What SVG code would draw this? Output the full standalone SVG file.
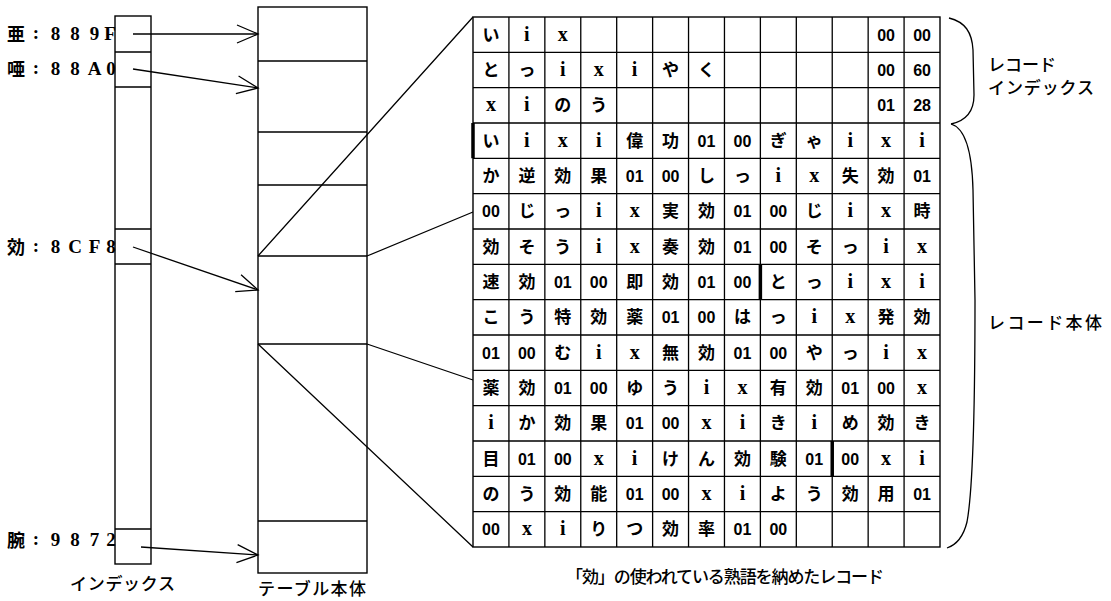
<svg xmlns="http://www.w3.org/2000/svg" width="1111" height="601" viewBox="0 0 1111 601">
<style>
.ln{fill:none;stroke:#000;stroke-width:1.3}
.box{fill:#fff;stroke:#000;stroke-width:1.4}
.thk{stroke:#000;stroke-width:3.5}
.k{font-family:"Noto Sans CJK JP",sans-serif;font-size:17px;font-weight:700;text-anchor:middle;fill:#000}
.n{font-family:"Liberation Sans","Noto Sans CJK JP",sans-serif;font-size:16px;font-weight:700;text-anchor:middle;fill:#000}
.r{font-family:"Liberation Serif","Noto Sans CJK JP",serif;font-size:20px;font-weight:700;text-anchor:middle;fill:#000}
.lbl{font-family:"Noto Sans CJK JP",sans-serif;font-size:18px;font-weight:700;fill:#000}
.hex{font-family:"Liberation Serif","Noto Sans CJK JP",serif;font-size:19px;font-weight:700;fill:#000;text-anchor:middle}
.cap{font-family:"Noto Sans CJK JP",sans-serif;font-size:17px;font-weight:500;fill:#000}
</style>
<defs>
<marker id="ah" viewBox="-23 -11 25 22" markerWidth="25" markerHeight="22" refX="0" refY="0" orient="auto" markerUnits="userSpaceOnUse">
<path d="M-21,-9 L0,0 L-21,9" fill="none" stroke="#000" stroke-width="1.3"/>
</marker>
</defs>
<rect width="1111" height="601" fill="#fff"/>

<g id="index">
<rect class="box" x="115" y="16" width="36" height="548"/>
<path class="ln" d="M115,52H151M115,87H151M115,229H151M115,264H151M115,529H151"/>
<text class="lbl" x="7" y="41">亜</text><text class="hex" x="36" y="39">:</text>
<text class="hex"><tspan x="55.5" y="40">8</tspan><tspan x="75" y="40">8</tspan><tspan x="94.5" y="40">9</tspan><tspan x="110" y="40">F</tspan></text>
<text class="lbl" x="7" y="76">唖</text><text class="hex" x="36" y="74">:</text>
<text class="hex"><tspan x="55.5" y="75">8</tspan><tspan x="75" y="75">8</tspan><tspan x="94.5" y="75">A</tspan><tspan x="111" y="75">0</tspan></text>
<text class="lbl" x="7" y="254">効</text><text class="hex" x="36" y="252">:</text>
<text class="hex"><tspan x="55.5" y="253">8</tspan><tspan x="75" y="253">C</tspan><tspan x="94.5" y="253">F</tspan><tspan x="111" y="253">8</tspan></text>
<text class="lbl" x="7" y="547">腕</text><text class="hex" x="36" y="545">:</text>
<text class="hex"><tspan x="55.5" y="546">9</tspan><tspan x="75" y="546">8</tspan><tspan x="94.5" y="546">7</tspan><tspan x="111" y="546">2</tspan></text>
<text class="cap" x="70" y="590" textLength="105">インデックス</text>
</g>

<g id="table">
<rect class="box" x="258" y="7" width="109" height="566"/>
<path class="ln" d="M258,61H367M258,132H367M258,185H367M258,256H367M258,344H367M258,521H367"/>
<text class="cap" x="258" y="595" textLength="108" font-size="16">テーブル本体</text>
</g>

<g id="connectors">
<path class="ln" marker-end="url(#ah)" d="M133,34L258,34"/>
<path class="ln" marker-end="url(#ah)" d="M133,69L258,88"/>
<path class="ln" marker-end="url(#ah)" d="M133,247L258,290"/>
<path class="ln" marker-end="url(#ah)" d="M141,547L258,555"/>
<path class="ln" d="M258,256L473,17M367,256L473,212M367,344L473,380M258,344L473,547"/>
</g>

<g id="records">
<rect class="box" x="473" y="17" width="467" height="530"/>
<path class="ln" d="M508.92,17V547M544.85,17V547M580.77,17V547M616.69,17V547M652.62,17V547M688.54,17V547M724.46,17V547M760.38,17V547M796.31,17V547M832.23,17V547M868.15,17V547M904.08,17V547"/>
<path class="ln" d="M473,52.33H940M473,87.67H940M473,123H940M473,158.33H940M473,193.67H940M473,229H940M473,264.33H940M473,299.67H940M473,335H940M473,370.33H940M473,405.67H940M473,441H940M473,476.33H940M473,511.67H940"/>
<path class="thk" d="M473,123V158.33M760.38,264.33V299.67M832.23,441V476.33"/>
<!-- row 1 -->
<text class="k" x="490.96" y="40.67">い</text><text class="r" x="526.88" y="40.67">i</text><text class="r" x="562.81" y="40.67">x</text><text class="n" x="886.12" y="40.67">00</text><text class="n" x="922.04" y="40.67">00</text>
<!-- row 2 -->
<text class="k" x="490.96" y="76">と</text><text class="k" x="526.88" y="76">っ</text><text class="r" x="562.81" y="76">i</text><text class="r" x="598.73" y="76">x</text><text class="r" x="634.65" y="76">i</text><text class="k" x="670.58" y="76">や</text><text class="k" x="706.5" y="76">く</text><text class="n" x="886.12" y="76">00</text><text class="n" x="922.04" y="76">60</text>
<!-- row 3 -->
<text class="r" x="490.96" y="111.33">x</text><text class="r" x="526.88" y="111.33">i</text><text class="k" x="562.81" y="111.33">の</text><text class="k" x="598.73" y="111.33">う</text><text class="n" x="886.12" y="111.33">01</text><text class="n" x="922.04" y="111.33">28</text>
<!-- row 4 -->
<text class="k" x="490.96" y="146.67">い</text><text class="r" x="526.88" y="146.67">i</text><text class="r" x="562.81" y="146.67">x</text><text class="r" x="598.73" y="146.67">i</text><text class="k" x="634.65" y="146.67">偉</text><text class="k" x="670.58" y="146.67">功</text><text class="n" x="706.5" y="146.67">01</text><text class="n" x="742.42" y="146.67">00</text><text class="k" x="778.35" y="146.67">ぎ</text><text class="k" x="814.27" y="146.67">ゃ</text><text class="r" x="850.19" y="146.67">i</text><text class="r" x="886.12" y="146.67">x</text><text class="r" x="922.04" y="146.67">i</text>
<!-- row 5 -->
<text class="k" x="490.96" y="182">か</text><text class="k" x="526.88" y="182">逆</text><text class="k" x="562.81" y="182">効</text><text class="k" x="598.73" y="182">果</text><text class="n" x="634.65" y="182">01</text><text class="n" x="670.58" y="182">00</text><text class="k" x="706.5" y="182">し</text><text class="k" x="742.42" y="182">っ</text><text class="r" x="778.35" y="182">i</text><text class="r" x="814.27" y="182">x</text><text class="k" x="850.19" y="182">失</text><text class="k" x="886.12" y="182">効</text><text class="n" x="922.04" y="182">01</text>
<!-- row 6 -->
<text class="n" x="490.96" y="217.33">00</text><text class="k" x="526.88" y="217.33">じ</text><text class="k" x="562.81" y="217.33">っ</text><text class="r" x="598.73" y="217.33">i</text><text class="r" x="634.65" y="217.33">x</text><text class="k" x="670.58" y="217.33">実</text><text class="k" x="706.5" y="217.33">効</text><text class="n" x="742.42" y="217.33">01</text><text class="n" x="778.35" y="217.33">00</text><text class="k" x="814.27" y="217.33">じ</text><text class="r" x="850.19" y="217.33">i</text><text class="r" x="886.12" y="217.33">x</text><text class="k" x="922.04" y="217.33">時</text>
<!-- row 7 -->
<text class="k" x="490.96" y="252.67">効</text><text class="k" x="526.88" y="252.67">そ</text><text class="k" x="562.81" y="252.67">う</text><text class="r" x="598.73" y="252.67">i</text><text class="r" x="634.65" y="252.67">x</text><text class="k" x="670.58" y="252.67">奏</text><text class="k" x="706.5" y="252.67">効</text><text class="n" x="742.42" y="252.67">01</text><text class="n" x="778.35" y="252.67">00</text><text class="k" x="814.27" y="252.67">そ</text><text class="k" x="850.19" y="252.67">っ</text><text class="r" x="886.12" y="252.67">i</text><text class="r" x="922.04" y="252.67">x</text>
<!-- row 8 -->
<text class="k" x="490.96" y="288">速</text><text class="k" x="526.88" y="288">効</text><text class="n" x="562.81" y="288">01</text><text class="n" x="598.73" y="288">00</text><text class="k" x="634.65" y="288">即</text><text class="k" x="670.58" y="288">効</text><text class="n" x="706.5" y="288">01</text><text class="n" x="742.42" y="288">00</text><text class="k" x="778.35" y="288">と</text><text class="k" x="814.27" y="288">っ</text><text class="r" x="850.19" y="288">i</text><text class="r" x="886.12" y="288">x</text><text class="r" x="922.04" y="288">i</text>
<!-- row 9 -->
<text class="k" x="490.96" y="323.33">こ</text><text class="k" x="526.88" y="323.33">う</text><text class="k" x="562.81" y="323.33">特</text><text class="k" x="598.73" y="323.33">効</text><text class="k" x="634.65" y="323.33">薬</text><text class="n" x="670.58" y="323.33">01</text><text class="n" x="706.5" y="323.33">00</text><text class="k" x="742.42" y="323.33">は</text><text class="k" x="778.35" y="323.33">っ</text><text class="r" x="814.27" y="323.33">i</text><text class="r" x="850.19" y="323.33">x</text><text class="k" x="886.12" y="323.33">発</text><text class="k" x="922.04" y="323.33">効</text>
<!-- row 10 -->
<text class="n" x="490.96" y="358.67">01</text><text class="n" x="526.88" y="358.67">00</text><text class="k" x="562.81" y="358.67">む</text><text class="r" x="598.73" y="358.67">i</text><text class="r" x="634.65" y="358.67">x</text><text class="k" x="670.58" y="358.67">無</text><text class="k" x="706.5" y="358.67">効</text><text class="n" x="742.42" y="358.67">01</text><text class="n" x="778.35" y="358.67">00</text><text class="k" x="814.27" y="358.67">や</text><text class="k" x="850.19" y="358.67">っ</text><text class="r" x="886.12" y="358.67">i</text><text class="r" x="922.04" y="358.67">x</text>
<!-- row 11 -->
<text class="k" x="490.96" y="394">薬</text><text class="k" x="526.88" y="394">効</text><text class="n" x="562.81" y="394">01</text><text class="n" x="598.73" y="394">00</text><text class="k" x="634.65" y="394">ゆ</text><text class="k" x="670.58" y="394">う</text><text class="r" x="706.5" y="394">i</text><text class="r" x="742.42" y="394">x</text><text class="k" x="778.35" y="394">有</text><text class="k" x="814.27" y="394">効</text><text class="n" x="850.19" y="394">01</text><text class="n" x="886.12" y="394">00</text><text class="r" x="922.04" y="394">x</text>
<!-- row 12 -->
<text class="r" x="490.96" y="429.33">i</text><text class="k" x="526.88" y="429.33">か</text><text class="k" x="562.81" y="429.33">効</text><text class="k" x="598.73" y="429.33">果</text><text class="n" x="634.65" y="429.33">01</text><text class="n" x="670.58" y="429.33">00</text><text class="r" x="706.5" y="429.33">x</text><text class="r" x="742.42" y="429.33">i</text><text class="k" x="778.35" y="429.33">き</text><text class="r" x="814.27" y="429.33">i</text><text class="k" x="850.19" y="429.33">め</text><text class="k" x="886.12" y="429.33">効</text><text class="k" x="922.04" y="429.33">き</text>
<!-- row 13 -->
<text class="k" x="490.96" y="464.67">目</text><text class="n" x="526.88" y="464.67">01</text><text class="n" x="562.81" y="464.67">00</text><text class="r" x="598.73" y="464.67">x</text><text class="r" x="634.65" y="464.67">i</text><text class="k" x="670.58" y="464.67">け</text><text class="k" x="706.5" y="464.67">ん</text><text class="k" x="742.42" y="464.67">効</text><text class="k" x="778.35" y="464.67">験</text><text class="n" x="814.27" y="464.67">01</text><text class="n" x="850.19" y="464.67">00</text><text class="r" x="886.12" y="464.67">x</text><text class="r" x="922.04" y="464.67">i</text>
<!-- row 14 -->
<text class="k" x="490.96" y="500">の</text><text class="k" x="526.88" y="500">う</text><text class="k" x="562.81" y="500">効</text><text class="k" x="598.73" y="500">能</text><text class="n" x="634.65" y="500">01</text><text class="n" x="670.58" y="500">00</text><text class="r" x="706.5" y="500">x</text><text class="r" x="742.42" y="500">i</text><text class="k" x="778.35" y="500">よ</text><text class="k" x="814.27" y="500">う</text><text class="k" x="850.19" y="500">効</text><text class="k" x="886.12" y="500">用</text><text class="n" x="922.04" y="500">01</text>
<!-- row 15 -->
<text class="n" x="490.96" y="535.33">00</text><text class="r" x="526.88" y="535.33">x</text><text class="r" x="562.81" y="535.33">i</text><text class="k" x="598.73" y="535.33">り</text><text class="k" x="634.65" y="535.33">つ</text><text class="k" x="670.58" y="535.33">効</text><text class="k" x="706.5" y="535.33">率</text><text class="n" x="742.42" y="535.33">01</text><text class="n" x="778.35" y="535.33">00</text>
<text class="cap" x="566" y="583" textLength="318" font-size="16">「効」の使われている熟語を納めたレコード</text>
</g>

<g id="record-index-brace">
<path class="ln" d="M949,18C965,22 972,32 973,50L974,95C974,112 965,121 951,124"/>
<text class="cap" x="988" y="71" font-size="15">レコード</text>
<text class="cap" x="988" y="94" font-size="15" textLength="106">インデックス</text>
</g>

<g id="record-body-brace">
<path class="ln" d="M951,124C965,128 972,150 973,190L975,300C975,420 972,495 967,522C963,538 956,545 947,548"/>
<text class="cap" x="988" y="329" textLength="114">レコード本体</text>
</g>
</svg>
